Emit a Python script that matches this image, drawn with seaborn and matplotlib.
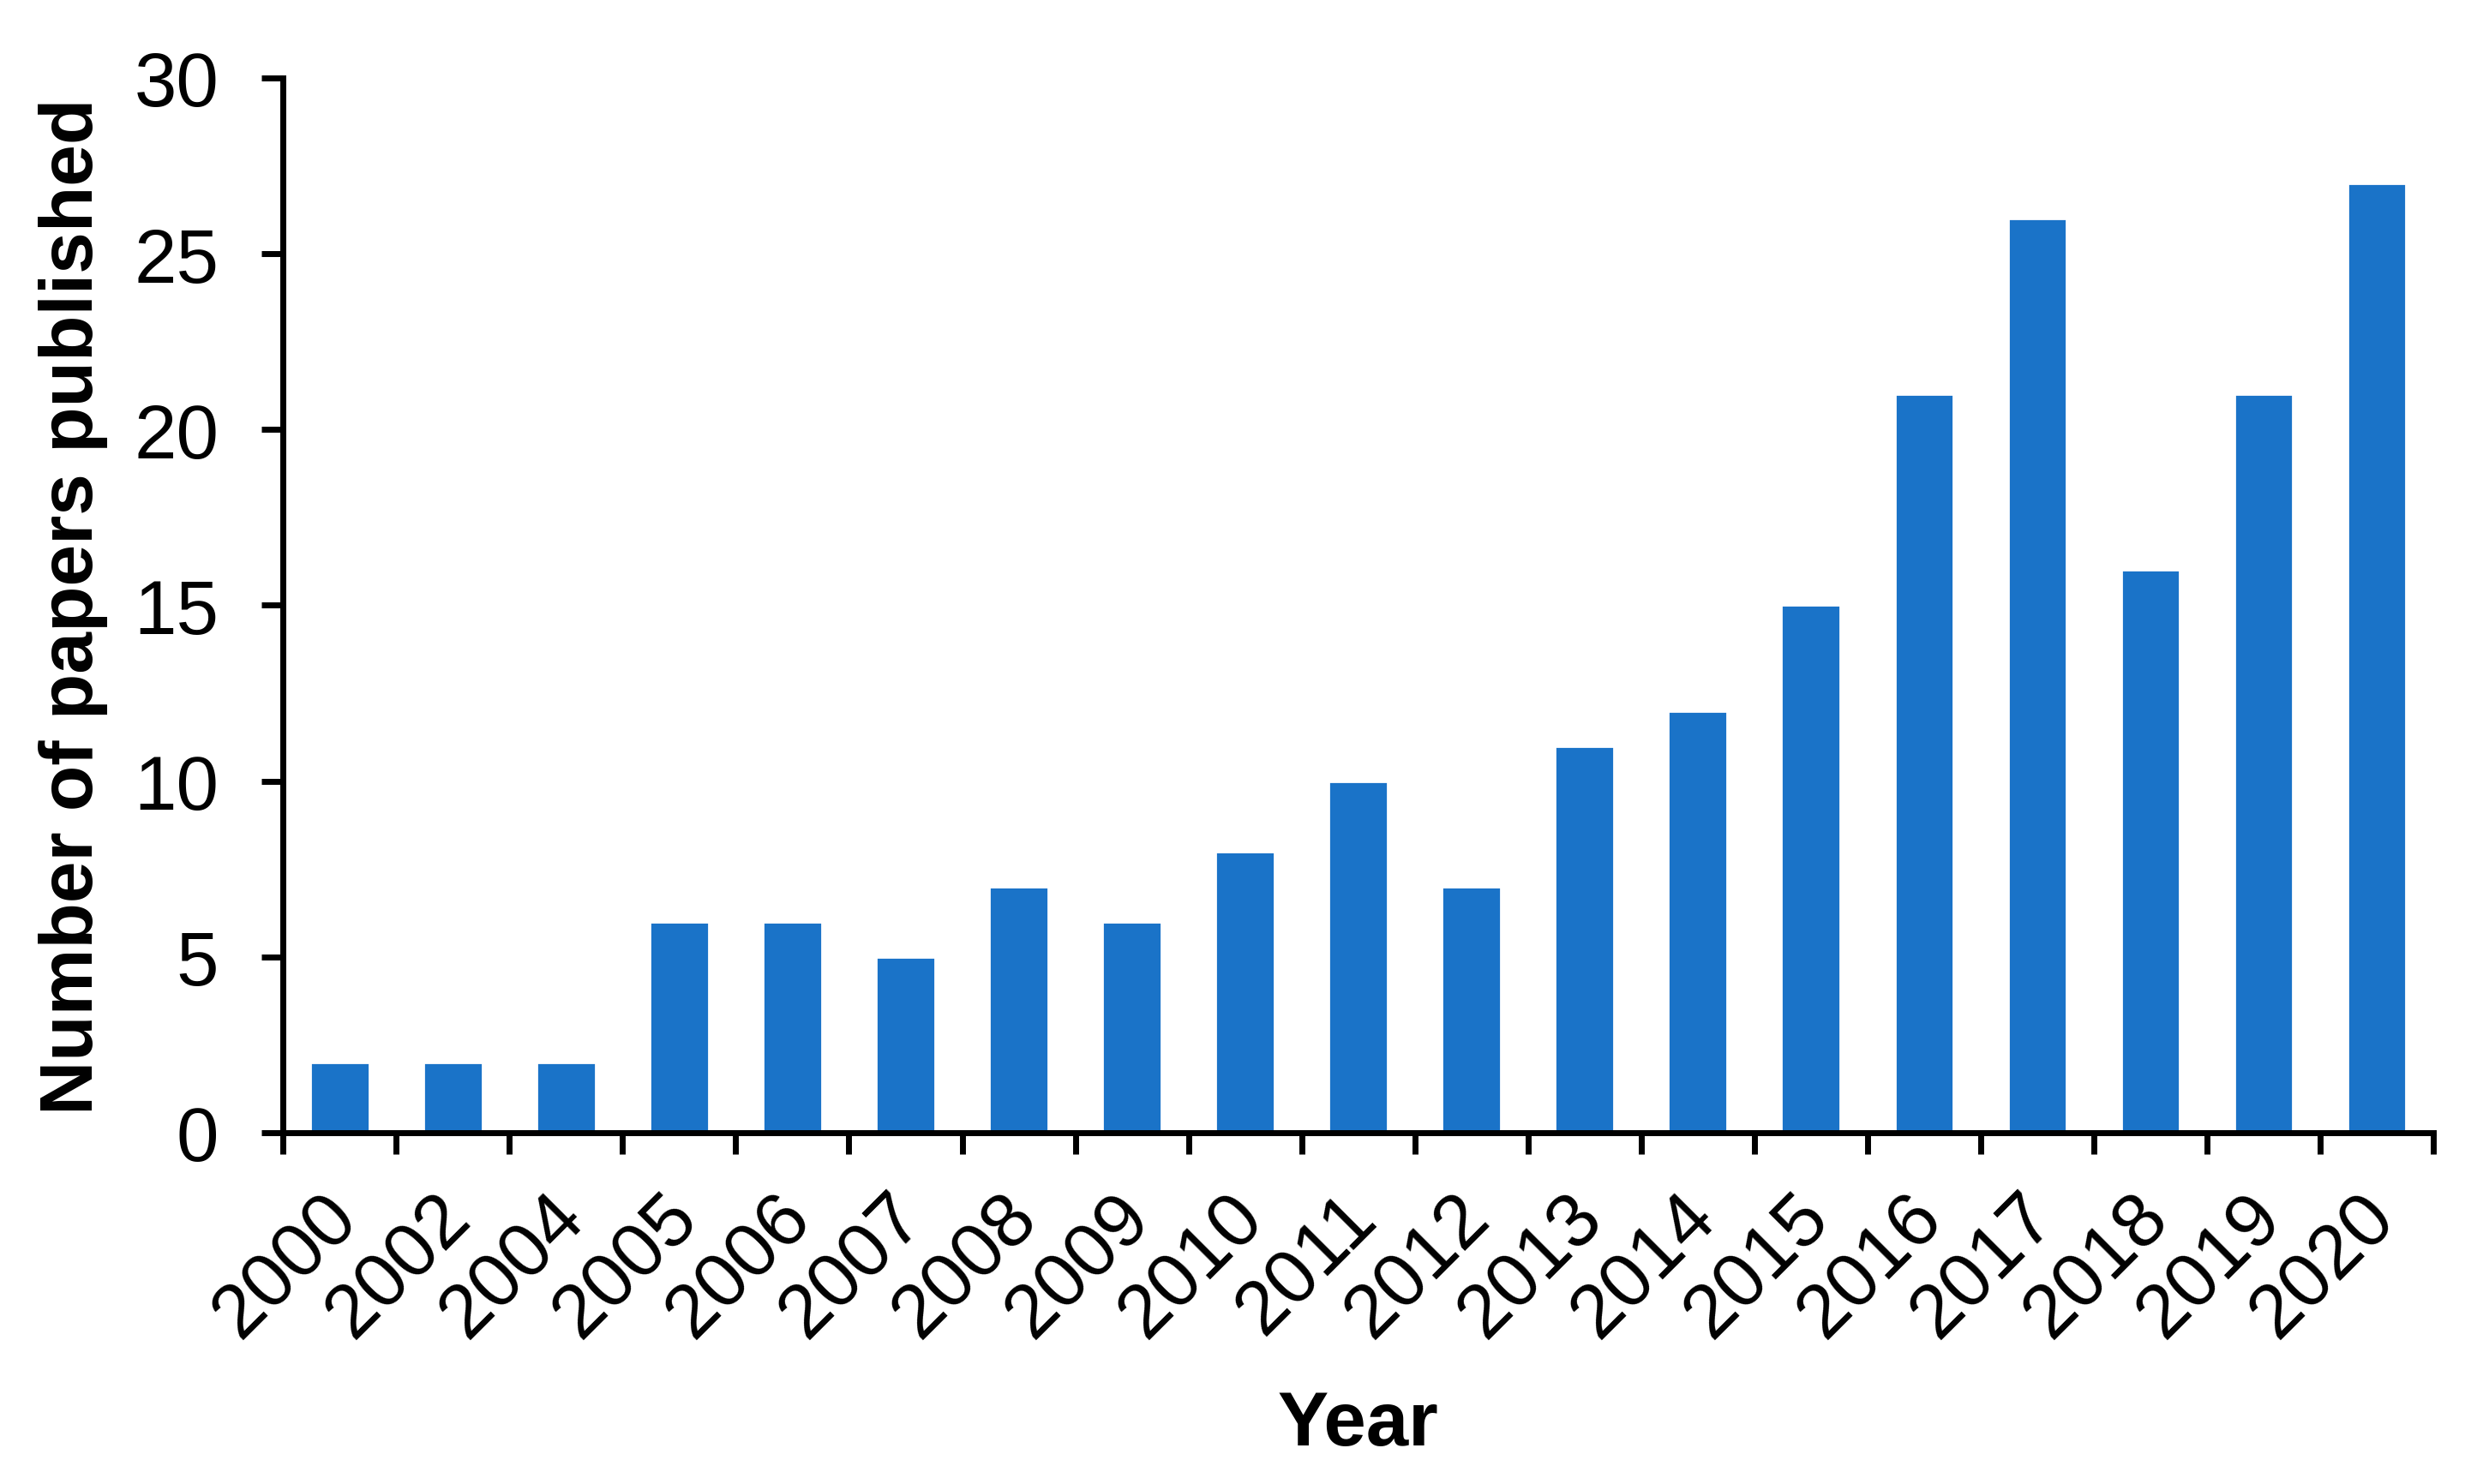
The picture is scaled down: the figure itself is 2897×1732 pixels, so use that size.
import numpy as np
import pandas as pd
import seaborn as sns
import matplotlib.pyplot as plt
from matplotlib.transforms import ScaledTranslation

# papers per year
years = ["2000", "2002", "2004", "2005", "2006", "2007", "2008", "2009", "2010",
         "2011", "2012", "2013", "2014", "2015", "2016", "2017", "2018", "2019", "2020"]
papers = [2, 2, 2, 6, 6, 5, 7, 6, 8, 10, 7, 11, 12, 15, 21, 26, 16, 21, 27]

df = pd.DataFrame({"Year": years, "Papers": papers})

sns.set_style("ticks")
plt.rcParams['font.family'] = ['Liberation Sans', 'DejaVu Sans']
plt.rcParams['text.color'] = 'black'
plt.rcParams['axes.labelcolor'] = 'black'
plt.rcParams['xtick.color'] = 'black'
plt.rcParams['ytick.color'] = 'black'

fig = plt.figure(figsize=(14.485, 8.665), dpi=200)
ax = fig.add_axes([0.114, 0.2366, 0.866, 0.7104])

sns.barplot(data=df, x="Year", y="Papers", color="#1a73c8", width=0.52,
            saturation=1, ax=ax)

ax.set_xlim(-0.5, len(years) - 0.5)
ax.set_ylim(0, 30)
ax.set_yticks([0, 5, 10, 15, 20, 25, 30])

# excel style: tick marks between the categories, labels at the centres
ax.set_xticks(np.arange(-0.5, len(years), 1), minor=True)
ax.tick_params(axis="x", which="major", length=0, labelsize=32, pad=20,
               labelcolor="black")
ax.tick_params(axis="x", which="minor", length=9, width=2.5, direction="out")
ax.tick_params(axis="y", length=9, width=2.5, labelsize=32, pad=18,
               labelcolor="black")
shift = ScaledTranslation(-0.11, 0, fig.dpi_scale_trans)
for lab in ax.get_xticklabels():
    lab.set_rotation(45)
    lab.set_ha("right")
    lab.set_rotation_mode("anchor")
    lab.set_transform(lab.get_transform() + shift)

sns.despine(ax=ax)
for s in ["left", "bottom"]:
    ax.spines[s].set_linewidth(2.5)
    ax.spines[s].set_color("black")

ax.set_xlabel("Year", fontsize=32, fontweight="bold", labelpad=16)
ax.set_ylabel("Number of papers published", fontsize=31.5, fontweight="bold", labelpad=11)

fig.savefig("out.png", dpi=200)
